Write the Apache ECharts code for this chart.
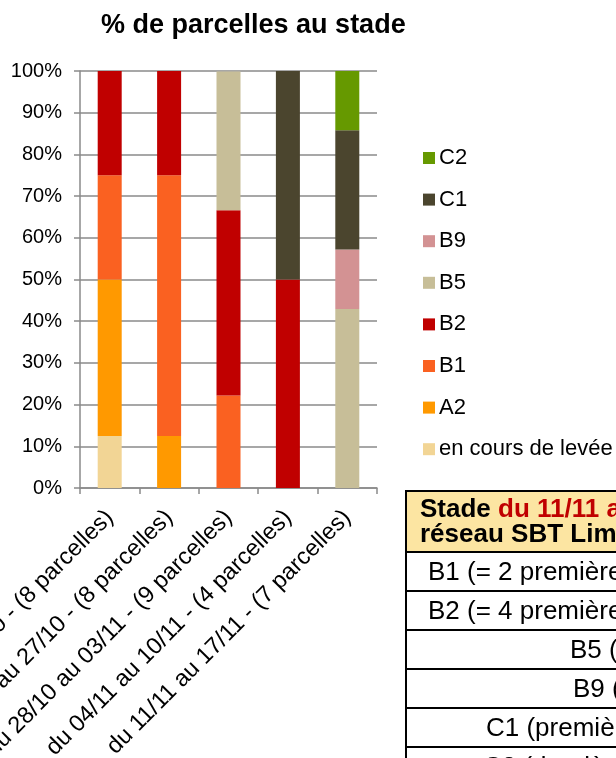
<!DOCTYPE html>
<html>
<head>
<meta charset="utf-8">
<script src="https://cdn.jsdelivr.net/npm/echarts@6/dist/echarts.min.js"></script>
<style>
html,body{margin:0;padding:0;background:#fff;overflow:hidden;}
#chart{position:absolute;left:0;top:0;width:616px;height:758px;}
#tbl{position:absolute;left:405px;top:490px;width:460px;border:2px solid #000;border-bottom:none;font-family:"Liberation Sans",Arial,sans-serif;font-size:26px;color:#000;}
#tbl .hd{background:#FCE5A2;height:61px;border-bottom:2px solid #000;font-weight:bold;line-height:25px;padding:4px 0 0 13px;box-sizing:border-box;white-space:nowrap;}
#tbl .hd .red{color:#C00000;}
#tbl .row{height:39px;border-bottom:2px solid #000;box-sizing:border-box;line-height:37px;white-space:nowrap;}
</style>
</head>
<body>
<div id="chart"></div>
<div id="tbl"></div>
<script>
const categories = [
  "du 14/10 au 20/10 - (8 parcelles)",
  "du 21/10 au 27/10 - (8 parcelles)",
  "du 28/10 au 03/11 - (9 parcelles)",
  "du 04/11 au 10/11 - (4 parcelles)",
  "du 11/11 au 17/11 - (7 parcelles)"
];
const seriesNames = ["en cours de levée", "A2", "B1", "B2", "B5", "B9", "C1", "C2"];
const enCours = [12.5, null, null, null, null];
const A2 = [37.5, 12.5, null, null, null];
const B1 = [25, 62.5, 22.2, null, null];
const B2 = [25, 25, 44.4, 50, null];
const B5 = [null, null, 33.3, null, 42.9];
const B9 = [null, null, null, null, 14.3];
const C1 = [null, null, null, 50, 28.6];
const C2 = [null, null, null, null, 14.3];
const yTicks = [0, 10, 20, 30, 40, 50, 60, 70, 80, 90, 100];
const tableHeader = ["Stade ", "du 11/11 au 17/11", " dans le", "réseau SBT Limagne"];
const tableRows = [
  "B1 (= 2 premières feuilles)",
  "B2 (= 4 premières feuilles)",
  "B5 (= 10 feuilles)",
  "B9 (= 18 feuilles)",
  "C1 (premières feuilles jaunies)",
  "C2 (dernières feuilles)"
];

const colors = ["#F2D595", "#FF9900", "#FA6121", "#C00000", "#C7BE98", "#D39293", "#4B452E", "#669900"];
const values = [enCours, A2, B1, B2, B5, B9, C1, C2];
const font = "Liberation Sans";

const chart = echarts.init(document.getElementById('chart'), null, {renderer: 'canvas'});
chart.setOption({
  animation: false,
  backgroundColor: '#fff',
  color: colors,
  title: {
    text: '% de parcelles au stade',
    left: 96, top: 7,
    textStyle: {fontFamily: font, fontSize: 27, fontWeight: 'bold', color: '#000'}
  },
  legend: {
    orient: 'vertical',
    left: 418, top: 142,
    itemWidth: 12, itemHeight: 12,
    itemGap: 19.6,
    icon: 'rect',
    data: seriesNames.slice().reverse(),
    textStyle: {fontFamily: font, fontSize: 22, color: '#000', lineHeight: 22, padding: [0,0,0,-1]}
  },
  grid: {left: 80, right: 239, top: 71, bottom: 270, containLabel: false, outerBoundsMode: 'none'},
  xAxis: {
    type: 'category',
    data: categories,
    axisLine: {lineStyle: {color: '#8A8A8A', width: 1.5}},
    axisTick: {show: true, length: 6, lineStyle: {color: '#8A8A8A', width: 1.5}},
    axisLabel: {rotate: 45, interval: 0, margin: 26, fontFamily: font, fontSize: 23.5, color: '#000', hideOverlap: false}
  },
  yAxis: {
    type: 'value',
    min: yTicks[0], max: yTicks[yTicks.length - 1], interval: 10,
    axisLine: {show: true, lineStyle: {color: '#8A8A8A', width: 1.5}},
    axisTick: {show: true, length: 6, lineStyle: {color: '#8A8A8A', width: 1.5}},
    splitLine: {show: true, lineStyle: {color: '#8A8A8A', width: 1.5}},
    axisLabel: {formatter: '{value}%', margin: 18, fontFamily: font, fontSize: 20, color: '#000'}
  },
  series: seriesNames.map((n, i) => ({
    name: n,
    type: 'bar',
    stack: 'total',
    barWidth: 24,
    data: values[i],
    itemStyle: {color: colors[i]}
  }))
});

// table
const tbl = document.getElementById('tbl');
const hd = document.createElement('div');
hd.className = 'hd';
const s1 = document.createElement('span'); s1.textContent = tableHeader[0];
const s2 = document.createElement('span'); s2.className = 'red'; s2.textContent = tableHeader[1];
const s3 = document.createElement('span'); s3.textContent = tableHeader[2];
hd.appendChild(s1); hd.appendChild(s2); hd.appendChild(s3);
hd.appendChild(document.createElement('br'));
const s4 = document.createElement('span'); s4.textContent = tableHeader[3];
hd.appendChild(s4);
tbl.appendChild(hd);
const pads = [21, 21, 163, 166, 79, 76];
tableRows.forEach((t, i) => {
  const r = document.createElement('div');
  r.className = 'row';
  r.style.paddingLeft = pads[i] + 'px';
  r.textContent = t;
  tbl.appendChild(r);
});
</script>
</body>
</html>
